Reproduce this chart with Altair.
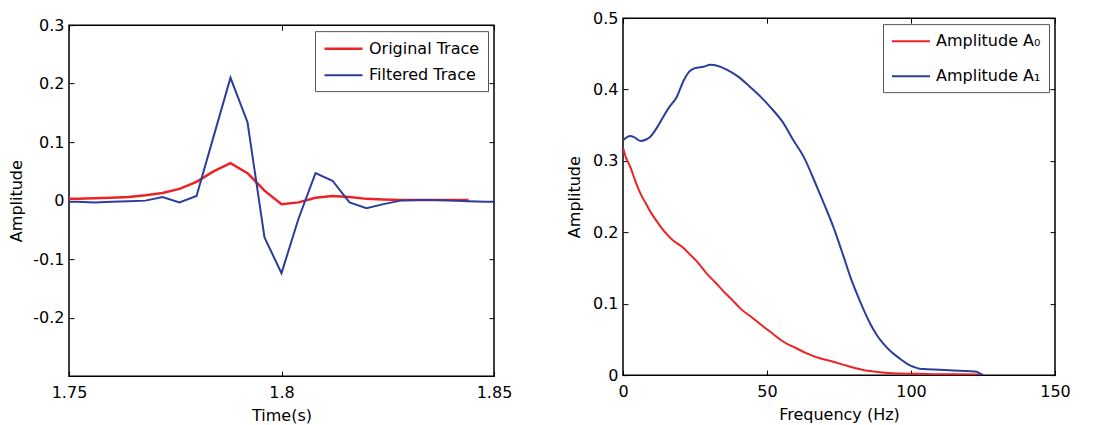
import altair as alt
import pandas as pd

# ---------------- Left panel data (time domain traces) ----------------
time_filtered = [1.748, 1.752, 1.756, 1.760, 1.764, 1.768, 1.772, 1.776, 1.780, 1.784,
                 1.788, 1.792, 1.796, 1.800, 1.804, 1.808, 1.812, 1.816, 1.820, 1.824,
                 1.828, 1.832, 1.836, 1.840, 1.844, 1.848, 1.852]
filtered_trace = [-0.002, -0.002, -0.003, -0.002, -0.001, 0.000, 0.006, -0.003, 0.008, 0.109,
                  0.210, 0.134, -0.063, -0.124, -0.031, 0.047, 0.034, -0.003, -0.013, -0.006,
                  0.000, 0.001, 0.001, 0.000, -0.001, -0.002, -0.002]

time_original = [1.748, 1.752, 1.756, 1.760, 1.764, 1.768, 1.772, 1.776, 1.780, 1.784,
                 1.788, 1.792, 1.796, 1.800, 1.804, 1.808, 1.812, 1.816, 1.820, 1.824,
                 1.828, 1.832, 1.836, 1.840, 1.844]
original_trace = [0.003, 0.003, 0.004, 0.005, 0.006, 0.009, 0.013, 0.020, 0.032, 0.050,
                  0.064, 0.047, 0.017, -0.006, -0.003, 0.005, 0.008, 0.006, 0.003, 0.002,
                  0.001, 0.001, 0.001, 0.001, 0.001]

left_series = ["Original Trace", "Filtered Trace"]

# ---------------- Right panel data (amplitude spectra) ----------------
freq_a0 = [0, 1, 2.5, 4, 6, 8, 9.5, 12, 14, 17, 21, 23.5, 25.7, 29, 32, 35, 38, 40.7,
           45, 48.8, 52, 55.7, 60, 63.8, 68, 73, 77, 81.2, 85, 88, 92, 96.2, 102,
           107.8, 115, 125]
amp_a0 = [0.318, 0.305, 0.292, 0.275, 0.255, 0.240, 0.229, 0.214, 0.203, 0.190, 0.178,
          0.168, 0.159, 0.1425, 0.130, 0.117, 0.105, 0.0935, 0.080, 0.0678, 0.058,
          0.0467, 0.038, 0.0304, 0.024, 0.0187, 0.014, 0.0093, 0.006, 0.0047, 0.003,
          0.0023, 0.0018, 0.0014, 0.0012, 0.001]

freq_a1 = [0, 2.5, 4, 6, 8, 9.5, 12, 14, 16, 18.7, 21, 23, 25, 28, 30.3, 33, 36, 40, 44,
           48, 51, 55.7, 59, 62.7, 67.3, 70, 73, 76.6, 79, 81.2, 83.5, 85.8, 88, 90.4,
           93, 96.2, 99, 100.8, 103, 105.5, 110, 113.6, 117, 120.5, 122.8, 124, 125]
amp_a1 = [0.329, 0.335, 0.333, 0.328, 0.330, 0.334, 0.348, 0.362, 0.375, 0.390, 0.412,
          0.425, 0.430, 0.432, 0.4346, 0.433, 0.428, 0.418, 0.404, 0.389, 0.376, 0.353,
          0.330, 0.306, 0.264, 0.238, 0.208, 0.166, 0.137, 0.114, 0.092, 0.0724, 0.057,
          0.044, 0.033, 0.023, 0.015, 0.0117, 0.009, 0.0084, 0.0075, 0.007, 0.006,
          0.0056, 0.0047, 0.002, 0.0]

right_series = ["Amplitude A\u2080", "Amplitude A\u2081"]

# tick values
left_x_ticks = [1.75, 1.8, 1.85]
left_y_ticks = [-0.2, -0.1, 0, 0.1, 0.2, 0.3]
right_x_ticks = [0, 50, 100, 150]
right_y_ticks = [0, 0.1, 0.2, 0.3, 0.4, 0.5]

RED = "#ec2227"
BLUE = "#2d3d9a"
FONT = "DejaVu Sans"

left_df = pd.concat([
    pd.DataFrame({"t": time_original, "v": original_trace, "series": left_series[0]}),
    pd.DataFrame({"t": time_filtered, "v": filtered_trace, "series": left_series[1]}),
])
right_df = pd.concat([
    pd.DataFrame({"f": freq_a0, "v": amp_a0, "series": right_series[0]}),
    pd.DataFrame({"f": freq_a1, "v": amp_a1, "series": right_series[1]}),
])

signed_fmt = "(datum.value < 0 ? '-' : '') + format(abs(datum.value), '.2~f')"


def main_axis(values, title, label_expr, orient, label_padding, title_padding):
    return alt.Axis(values=values, title=title, labelExpr=label_expr, orient=orient,
                    offset=-5, tickSize=5, domain=False, grid=False,
                    labelPadding=label_padding, titlePadding=title_padding,
                    tickColor="black", labelColor="black", titleColor="black",
                    labelFlush=False, labelOverlap=False)


def mirror_axis(values, orient):
    return alt.Axis(values=values, title=None, labels=False, orient=orient,
                    offset=-5, tickSize=5, domain=False, grid=False, tickColor="black")


# legend line: symbol box 16px, drawn line extends ~38px to the right
LEGEND_LINE = "M-1,0H3.75"


def legend(pad, row_pad):
    return alt.Legend(title=None, orient="top-right", offset=6, symbolType=LEGEND_LINE,
                      symbolSize=256, symbolStrokeWidth=2, strokeColor="#555555",
                      fillColor="white", padding=pad, rowPadding=row_pad,
                      labelFont=FONT, labelFontSize=16, labelColor="black",
                      labelOffset=27, labelLimit=300)


# ---------------- Left chart ----------------
lx = alt.Scale(domain=[1.75, 1.85], nice=False, zero=False)
ly = alt.Scale(domain=[-0.3, 0.3], nice=False, zero=False)

left_lines = alt.Chart(left_df).mark_line(clip=True).encode(
    x=alt.X("t:Q", scale=lx,
            axis=main_axis(left_x_ticks, "Time(s)", "format(datum.value, '.2~f')", "bottom", 8, 7)),
    y=alt.Y("v:Q", scale=ly,
            axis=main_axis(left_y_ticks, "Amplitude", signed_fmt, "left", 5, 8)),
    color=alt.Color("series:N", scale=alt.Scale(domain=left_series, range=[RED, BLUE]),
                    legend=legend(8, 9)),
    strokeWidth=alt.StrokeWidth("series:N", scale=alt.Scale(domain=left_series, range=[2.5, 2]),
                                legend=None),
)
left_mirror = alt.Chart(left_df).mark_point(opacity=0).encode(
    x=alt.X("t:Q", scale=lx, axis=mirror_axis(left_x_ticks, "top")),
    y=alt.Y("v:Q", scale=ly, axis=mirror_axis(left_y_ticks, "right")),
)
left = alt.layer(left_lines, left_mirror).resolve_axis(x="independent", y="independent").properties(
    width=425, height=351,
)

# ---------------- Right chart ----------------
rx = alt.Scale(domain=[0, 150], nice=False)
ry = alt.Scale(domain=[0, 0.5], nice=False)

right_lines = alt.Chart(right_df).mark_line(clip=True, strokeWidth=2, interpolate="monotone").encode(
    x=alt.X("f:Q", scale=rx,
            axis=main_axis(right_x_ticks, "Frequency (Hz)", "format(datum.value, 'd')", "bottom", 8, 7)),
    y=alt.Y("v:Q", scale=ry,
            axis=main_axis(right_y_ticks, "Amplitude", "format(datum.value, '.1~f')", "left", 5, 10)),
    color=alt.Color("series:N", scale=alt.Scale(domain=right_series, range=[RED, BLUE]),
                    legend=legend(8, 18)),
)
right_mirror = alt.Chart(right_df).mark_point(opacity=0).encode(
    x=alt.X("f:Q", scale=rx, axis=mirror_axis(right_x_ticks, "top")),
    y=alt.Y("v:Q", scale=ry, axis=mirror_axis(right_y_ticks, "right")),
)
# an empty bottom title only reserves space so the centred row puts this panel 7px higher
right = alt.layer(right_lines, right_mirror).resolve_axis(x="independent", y="independent").properties(
    width=432, height=357,
    title=alt.TitleParams(" ", orient="bottom", fontSize=8, offset=0),
)

chart = alt.hconcat(left, right, spacing=52, center=True).resolve_scale(
    color="independent", strokeWidth="independent"
).properties(
    padding={"left": 8, "top": 9, "right": 5, "bottom": 2},
    background="white",
).configure_view(
    stroke="black", strokeWidth=1.5,
).configure_axis(
    labelFont=FONT, labelFontSize=16, titleFont=FONT, titleFontSize=16,
    titleFontWeight="normal", tickWidth=1,
).configure_title(font=FONT)

chart.save("out.html", embed_options={"renderer": "svg", "actions": False})
